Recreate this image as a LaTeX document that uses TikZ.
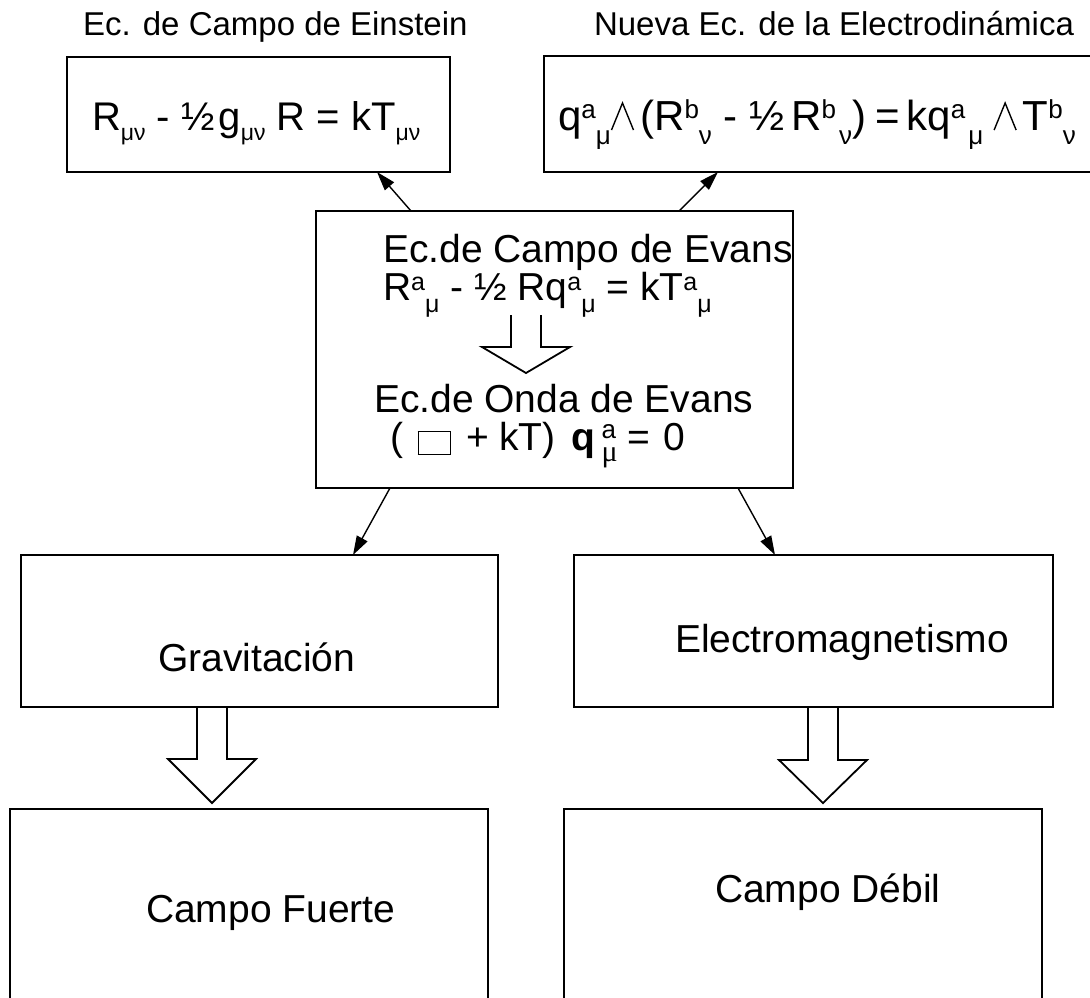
\documentclass[tikz,border=0pt]{standalone}
\usepackage{fontspec}
\setmainfont{Liberation Sans}
\newfontfamily\serifg{Liberation Serif}
\usetikzlibrary{arrows.meta,calc}

% font size shortcut
\newcommand\fs[1]{\fontsize{#1}{#1}\selectfont}
% raised / lowered small text: shift, size, text
\newcommand\hiscr[3]{\raisebox{#1pt}{\fs{#2}#3}}
\newcommand\loscr[3]{\raisebox{-#1pt}{\fs{#2}#3}}
% superscript and subscript of the electrodynamics equation
\newcommand\hb[1]{\hiscr{12}{26}{#1}}
\newcommand\lb[1]{\loscr{14}{26}{#1}}
% thin wedge sign
\newcommand\wedg{\tikz[x=1pt,y=1pt,baseline=0pt]\draw[line width=1.4pt,line join=miter] (0,0) -- (11,27) -- (22,0);}
% d'Alembertian box
\newcommand\sqbox{{\setlength\fboxsep{0pt}\setlength\fboxrule{1.4pt}\raisebox{-4pt}{\fbox{\rule{0pt}{22pt}\hspace{31pt}}}}}
% stacked a over mu
\newcommand\qstack{\rlap{\raisebox{12pt}{\fs{26}a}}\raisebox{-11pt}{\serifg\fs{30}μ}}
% piece of a line set at a fixed offset from the line start
\newcommand\at[2]{\makebox[0pt][l]{\hspace{#1pt}#2}}

\tikzset{
  pics/hollow/.style 2 args={code={
    \draw[blk] (-15,0) -- (-15,#1) -- (-44,#1) -- (0,#1+#2) -- (44,#1) -- (15,#1) -- (15,0);
  }}
}

\begin{document}
\begin{tikzpicture}[x=1pt,y=-1pt,
  box/.style={draw, line width=1.8pt, inner sep=0pt, outer sep=0pt, anchor=north west},
  txt/.style={inner sep=0pt, outer sep=0pt, anchor=base west, font=\fs{39}},
  conn/.style={line width=1.4pt, -{Triangle[length=19pt,width=12pt]}},
  blk/.style={line width=1.8pt, line join=miter}
]
\useasboundingbox (0,0) rectangle (1090,997);
\clip (0,0) rectangle (1090,997);
\fill[white] (0,0) rectangle (1090,997);

% boxes
\node[box, minimum width=383pt, minimum height=115pt] (ein) at (67,57) {};
\node[box, minimum width=580pt, minimum height=116pt] (ele) at (544,56) {};
\node[box, minimum width=477pt, minimum height=277pt] (cen) at (316,211) {};
\node[box, minimum width=477pt, minimum height=152pt] (gra) at (21,555) {};
\node[box, minimum width=479pt, minimum height=152pt] (em) at (574,555) {};
\node[box, minimum width=478pt, minimum height=220pt] (fue) at (10,809) {};
\node[box, minimum width=478pt, minimum height=220pt] (deb) at (564,809) {};

% titles
\node[txt, font=\fs{33}] (t1) at (83,35) {Ec. de Campo de Einstein};
\node[txt, font=\fs{33}] (t2) at (594,35) {Nueva Ec. de la Electrodinámica};

% field equations
\node[txt, font=\fs{40}] (f1) at (92,130)
  {R\loscr{10}{23}{μν} - ½\hspace{4pt}g\loscr{10}{23}{μν} R = kT\loscr{10}{23}{μν}};
\node[txt, font=\fs{42}] (f2) at (558,130)
  {q\hb{a}\lb{μ}\wedg\hspace{6pt}(R\hb{b}\lb{ν} - ½\hspace{7pt}R\hb{b}\hspace{3pt}\lb{ν})\hspace{9pt}=\hspace{7pt}kq\hb{a}\hspace{3pt}\lb{μ}\hspace{10pt}\wedg\hspace{6pt}T\hb{b}\lb{ν}};

% central box
\node[txt] (c1) at (383,262) {Ec.de Campo de Evans};
\node[txt] (c2) at (383,300)
  {R\hiscr{10}{25}{a}\loscr{12}{25}{μ} - ½ Rq\hiscr{10}{25}{a}\loscr{12}{25}{μ} = kT\hiscr{10}{25}{a}\loscr{12}{25}{μ}};
\node[txt] (c3) at (374,412) {Ec.de Onda de Evans};
\node[txt] (c4) at (390,450)
  {\at{0}{(}\at{27}{\sqbox}\at{76}{+}\at{109}{kT)}\at{181}{\textbf{q}}\at{211}{\qstack}\at{237}{=}\at{273}{0}\hspace{298pt}};

% lower boxes
\node[txt] (g)  at (158,671) {Gravitación};
\node[txt] (e)  at (675,652) {Electromagnetismo};
\node[txt] (cf) at (146,922) {Campo Fuerte};
\node[txt] (cd) at (715,902) {Campo Débil};

% connectors
\draw[conn] ([xshift=95pt]cen.north west) -- ([xshift=310pt]ein.south west);
\draw[conn] ([xshift=363pt]cen.north west) -- ([xshift=174pt]ele.south west);
\draw[conn] ([xshift=74pt]cen.south west) -- ([xshift=332pt]gra.north west);
\draw[conn] ([xshift=422pt]cen.south west) -- ([xshift=201pt]em.north west);

% hollow block arrows
\pic at ($(cen.north west)+(210,104)$) {hollow={32}{26}};
\pic at ($(gra.south west)+(191,0)$) {hollow={52}{44}};
\pic at ($(em.south west)+(249,0)$) {hollow={53}{43}};
\end{tikzpicture}
\end{document}
